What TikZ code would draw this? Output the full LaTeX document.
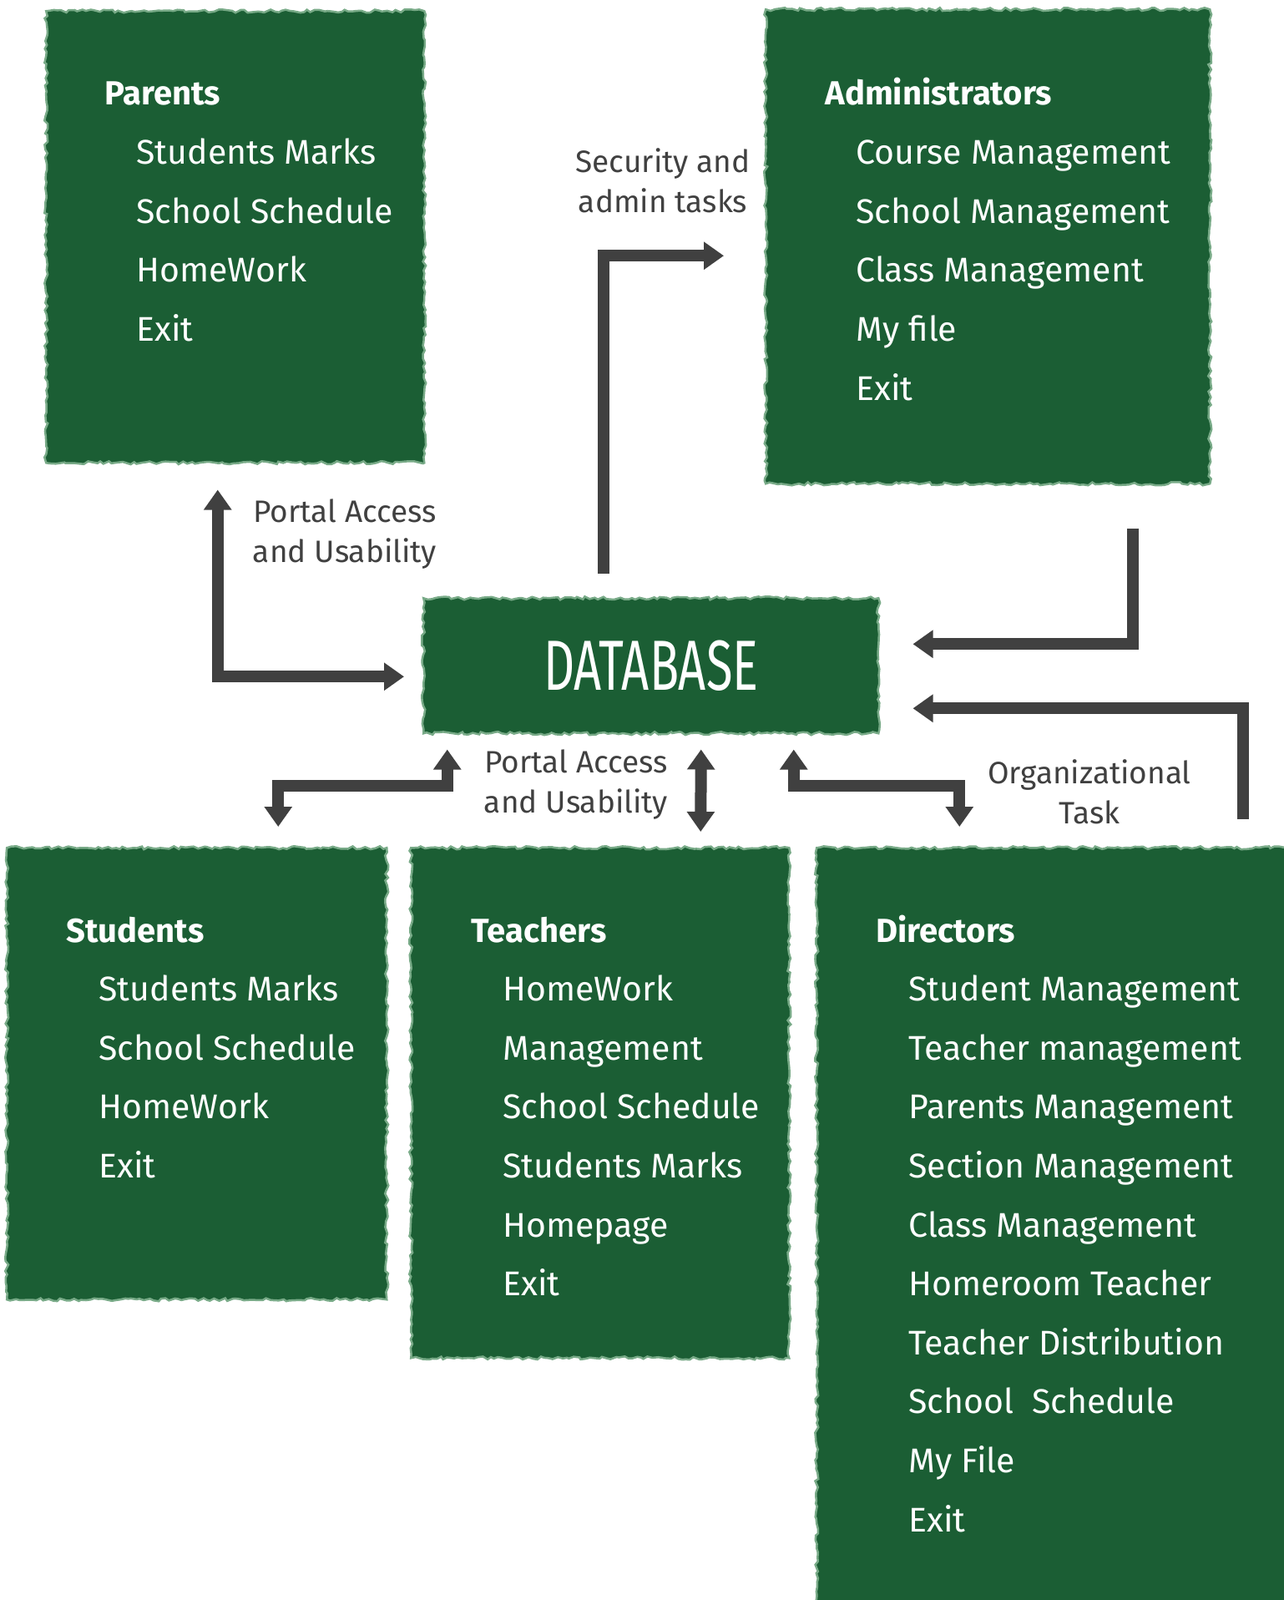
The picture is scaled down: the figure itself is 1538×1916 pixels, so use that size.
\documentclass[tikz,border=0pt]{standalone}
\usepackage{fontspec}
\setmainfont{Fira Sans}
\newfontfamily\dbfont[FakeStretch=0.68]{Fira Sans}
\usetikzlibrary{arrows.meta,decorations.pathmorphing}
\definecolor{board}{RGB}{27,94,52}
\definecolor{chalk}{RGB}{120,170,135}
\definecolor{ink}{RGB}{64,64,64}
\begin{document}
\begin{tikzpicture}[x=1pt,y=-1pt,
		board/.style={fill=board,draw=chalk,line width=2.5pt,decorate,decoration={random steps,segment length=5pt,amplitude=2pt},anchor=north west,inner sep=0pt},
		head/.style={anchor=base west,text=white,font=\fontsize{40}{50}\selectfont\bfseries},
		item/.style={anchor=base west,text=white,font=\fontsize{41}{50}\selectfont},
		note/.style={align=center,text=ink,font=\fontsize{37}{48}\selectfont},
		link/.style={draw=ink,line width=14pt,-{Triangle[width=32pt,length=24pt]}},
		both/.style={link,{Triangle[width=32pt,length=24pt]}-{Triangle[width=32pt,length=24pt]}}]
		\useasboundingbox (0,0) rectangle (1538,1916);
		\node[board,minimum width=453pt,minimum height=541pt] (parents) at (54,12) {};
		\node[board,minimum width=532pt,minimum height=568pt] (admin) at (916,10) {};
		\node[board,minimum width=545pt,minimum height=162pt,text=white,font=\dbfont\fontsize{85}{90}\selectfont] (db) at (506,715) {DATABASE};
		\node[board,minimum width=455pt,minimum height=541pt] (students) at (7,1014) {};
		\node[board,minimum width=453pt,minimum height=611pt] (teachers) at (491,1014) {};
		\node[board,minimum width=570pt,minimum height=912pt] (directors) at (977,1014) {};
		\node[head] (parentstitle) at (122,126) {Parents};
		\foreach \t [count=\i] in {Students Marks,School Schedule,HomeWork,Exit}
			\node[item] (parents\i) at (160,126+70.6*\i) {\t};
		\node[head] (admintitle) at (985,126) {Administrators};
		\foreach \t [count=\i] in {Course Management,School Management,Class Management,My file,Exit}
			\node[item] (admin\i) at (1022,126+70.6*\i) {\t};
		\node[head] (studentstitle) at (76,1128) {Students};
		\foreach \t [count=\i] in {Students Marks,School Schedule,HomeWork,Exit}
			\node[item] (students\i) at (115,1128+70.6*\i) {\t};
		\node[head] (teacherstitle) at (561,1128) {Teachers};
		\foreach \t [count=\i] in {HomeWork,Management,School Schedule,Students Marks,Homepage,Exit}
			\node[item] (teachers\i) at (599,1128+70.6*\i) {\t};
		\node[head] (directorstitle) at (1046,1128) {Directors};
		\foreach \t [count=\i] in {Student Management,Teacher management,Parents Management,Section Management,Class Management,Homeroom Teacher,Teacher Distribution,School~ Schedule,My File,Exit}
			\node[item] (directors\i) at (1085,1128+70.6*\i) {\t};
		\node[note] (sectext) at (794,216) {Security and\\admin tasks};
		\node[note] (toptext) at (413,640) {Portal Access\\and Usability};
		\node[note] (midtext) at (690,940) {Portal Access\\and Usability};
		\node[note] (orgtext) at (1305,948) {Organizational\\Task};
		\draw[both] ([xshift=-21pt,yshift=-31pt]parents.south) |- ([xshift=-22pt,yshift=-13pt]db.west);
		\draw[link] ([xshift=-57pt,yshift=28pt]db.north) |- ([xshift=-49pt,yshift=-11pt]admin.west);
		\draw[link] ([xshift=174pt,yshift=-52pt]admin.south) |- ([xshift=40pt,yshift=26pt]db.east);
		\draw[link] ([xshift=226pt,yshift=33pt]directors.north) |- ([xshift=40pt,yshift=-51pt]db.east);
		\draw[both] ([xshift=-244pt,yshift=-18pt]db.south) -- ++(0,43) -| ([xshift=97.5pt,yshift=24pt]students.north);
		\draw[both] ([xshift=60pt,yshift=-18pt]db.south) -- ([xshift=120.5pt,yshift=18pt]teachers.north);
		\draw[both] ([xshift=171pt,yshift=-18pt]db.south) -- ++(0,43) -| ([xshift=-114pt,yshift=24pt]directors.north);
	\end{tikzpicture}
\end{document}
